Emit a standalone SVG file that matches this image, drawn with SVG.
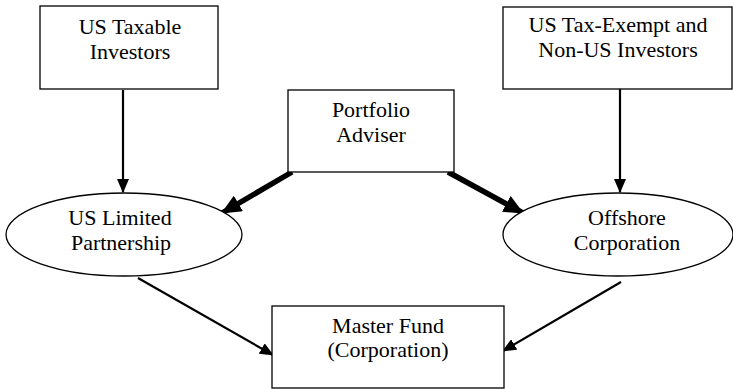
<svg xmlns="http://www.w3.org/2000/svg" width="733" height="389" viewBox="0 0 733 389">
<defs>
<style>
.box{fill:#fff;stroke:#000;stroke-width:1.3}
text{font-family:"Liberation Serif","Times New Roman",serif;font-size:22px;fill:#000;text-anchor:middle}
.c{stroke:#000;fill:none}
.thin{stroke-width:2.2}
.thick{stroke-width:5.5}
</style>
<marker id="ah" markerUnits="userSpaceOnUse" markerWidth="14" markerHeight="12" refX="13" refY="6" orient="auto">
<path d="M0,0 L14,6 L0,12 Z" fill="#000"/>
</marker>
<marker id="ahb" markerUnits="userSpaceOnUse" markerWidth="20" markerHeight="18" refX="19" refY="9" orient="auto">
<path d="M0,0 L20,9 L0,18 Z" fill="#000"/>
</marker>
</defs>
<g id="connectors">
<line class="c thin" x1="123" y1="90" x2="123" y2="192" marker-end="url(#ah)"/>
<line class="c thin" x1="620" y1="89" x2="620" y2="192" marker-end="url(#ah)"/>
<line class="c thick" x1="292" y1="172" x2="222" y2="213" marker-end="url(#ahb)"/>
<line class="c thick" x1="448" y1="172" x2="523" y2="213" marker-end="url(#ahb)"/>
<line class="c thin" x1="138" y1="278" x2="273" y2="355" marker-end="url(#ah)"/>
<line class="c thin" x1="621" y1="282" x2="503" y2="351" marker-end="url(#ah)"/>
</g>
<g id="us-taxable">
<rect class="box" x="40" y="6" width="178" height="83"/>
<text x="130" y="34">US Taxable</text>
<text x="130" y="59">Investors</text>
</g>
<g id="us-tax-exempt">
<rect class="box" x="503" y="7" width="229" height="82"/>
<text x="618" y="32">US Tax-Exempt and</text>
<text x="618" y="57">Non-US Investors</text>
</g>
<g id="portfolio-adviser">
<rect class="box" x="288" y="90" width="166" height="82"/>
<text x="371" y="117">Portfolio</text>
<text x="371" y="142">Adviser</text>
</g>
<g id="us-lp">
<ellipse class="box" cx="124" cy="234.5" rx="118" ry="41.5"/>
<text x="120" y="225">US Limited</text>
<text x="121" y="250">Partnership</text>
</g>
<g id="offshore">
<ellipse class="box" cx="618" cy="234.5" rx="115" ry="41.5"/>
<text x="627" y="225">Offshore</text>
<text x="627" y="250">Corporation</text>
</g>
<g id="master-fund">
<rect class="box" x="272" y="306" width="232" height="82"/>
<text x="388" y="333">Master Fund</text>
<text x="388" y="357">(Corporation)</text>
</g>
</svg>
